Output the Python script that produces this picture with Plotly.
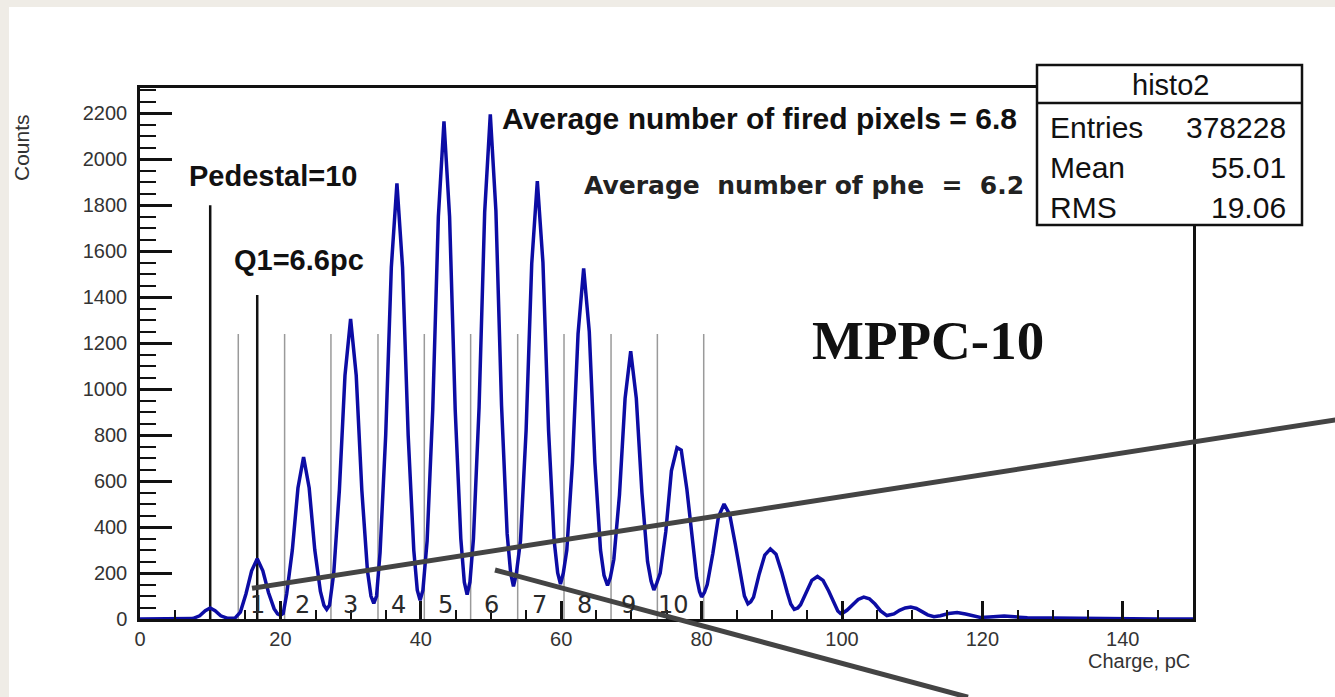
import plotly.graph_objects as go

# ---------------- data ----------------
charge = [0, 5, 7.5, 8.5, 9.3, 10.0, 10.7, 11.5, 12.5, 13.5,
          14.3, 15.1, 15.9, 16.7, 17.5, 18.3, 19.1, 19.6, 20.0, 20.4,
          20.9, 21.7, 22.5, 23.3, 24.1, 24.9, 25.7, 26.2, 26.6, 27.0,
          27.6, 28.4, 29.2, 30.0, 30.8, 31.6, 32.4, 32.9, 33.3, 33.7,
          34.2, 35.0, 35.8, 36.6, 37.4, 38.2, 39.0, 39.5, 39.9, 40.3,
          40.9, 41.7, 42.5, 43.3, 44.1, 44.9, 45.7, 46.2, 46.6, 47.0,
          47.5, 48.3, 49.1, 49.9, 50.7, 51.5, 52.3, 52.8, 53.2, 53.6,
          54.2, 55.0, 55.8, 56.6, 57.4, 58.2, 59.0, 59.5, 59.9, 60.3,
          60.8, 61.6, 62.4, 63.2, 64.0, 64.8, 65.6, 66.1, 66.6, 67.0,
          67.5, 68.3, 69.1, 69.9, 70.7, 71.5, 72.3, 72.8, 73.2, 73.6,
          74.1, 74.9, 75.7, 76.5, 77.1, 77.9, 78.7, 79.3, 79.7, 80.0, 80.4,
          80.8, 81.6, 82.4, 83.2, 84.0, 84.8, 85.6, 86.1, 86.6, 87.0,
          87.4, 88.2, 89.0, 89.8, 90.6, 91.4, 92.2, 92.7, 93.2, 93.7,
          94.1, 94.9, 95.7, 96.5, 97.3, 98.1, 98.9, 99.4, 99.8, 100.2,
          100.7, 101.5, 102.3, 103.1, 103.9, 104.7, 105.5, 106.4,
          107.4, 108.2, 109.0, 109.8, 110.6, 111.4, 112.2, 113.1,
          114.0, 115.2, 116.4, 117.6, 118.8, 119.7,
          121.0, 123.1, 125.2, 126.4, 130, 135, 140, 145, 150]
counts = [0, 1, 2, 14, 36, 48, 36, 14, 3, 3,
          30, 110, 210, 262, 210, 115, 45, 22, 16, 24,
          110, 300, 570, 705, 570, 300, 120, 60, 42, 60,
          200, 560, 1060, 1305, 1060, 560, 210, 100, 68, 100,
          290, 800, 1530, 1895, 1530, 800, 300, 125, 82, 125,
          340, 910, 1750, 2165, 1750, 910, 350, 160, 106, 160,
          350, 920, 1770, 2195, 1775, 930, 370, 200, 142, 195,
          340, 820, 1545, 1905, 1550, 820, 340, 200, 152, 200,
          300, 680, 1240, 1525, 1250, 680, 300, 190, 146, 180,
          260, 540, 960, 1165, 960, 550, 250, 165, 126, 155,
          200, 380, 645, 745, 735, 565, 330, 180, 120, 96, 115,
          150, 285, 445, 500, 455, 325, 175, 100, 66, 75,
          95, 195, 278, 305, 282, 205, 115, 65, 42, 48,
          62, 118, 168, 185, 168, 122, 68, 35, 24, 28,
          38, 62, 85, 95, 88, 65, 35, 15,
          22, 38, 48, 52, 46, 32, 18, 10,
          14, 24, 28, 22, 12, 7,
          9, 13, 8, 5, 4, 2, 1, 0, 0]

bin_edges = [14.0, 20.6, 27.2, 33.9, 40.5, 47.1, 53.8, 60.4, 67.1, 73.7, 80.3]
bin_edge_height = 1240
bin_labels = ["1", "2", "3", "4", "5", "6", "7", "8", "9", "10"]
bin_label_x = [16.7, 23.1, 30.0, 36.8, 43.5, 50.0, 56.9, 63.3, 69.6, 76.0]

pedestal_x, pedestal_h = 10.0, 1800
q1_x, q1_h = 16.7, 1410

stats_names = ["Entries", "Mean", "RMS"]
stats_values = ["378228", "55.01", "19.06"]

# ---------------- figure ----------------
W, H = 1335, 697
L, R, T, B = 140, 1193, 88, 619


def px(X):
    return (X - L) / (R - L)


def py(Y):
    return (B - Y) / (B - T)


fig = go.Figure()

# thin grey boundary lines
gx, gy = [], []
for e in bin_edges:
    gx += [e, e, None]
    gy += [0, bin_edge_height, None]
fig.add_trace(go.Scatter(x=gx, y=gy, mode="lines",
                         line=dict(color="#9a9a9a", width=1.5),
                         hoverinfo="skip", showlegend=False))

# black marker lines (pedestal, Q1)
fig.add_trace(go.Scatter(x=[pedestal_x, pedestal_x, None, q1_x, q1_x],
                         y=[0, pedestal_h, None, 0, q1_h], mode="lines",
                         line=dict(color="#111111", width=2.5),
                         hoverinfo="skip", showlegend=False))

# histogram
fig.add_trace(go.Scatter(x=charge, y=counts, mode="lines",
                         line=dict(color="#0c0ca4", width=3.5),
                         showlegend=False))

ann = []
bold = "Liberation Sans"
ann.append(dict(x=6.7, y=1926, xref="x", yref="y", text="<b>Pedestal=10</b>",
                showarrow=False, xanchor="left", yanchor="middle",
                font=dict(family=bold, size=29, color="#111")))
ann.append(dict(x=13.1, y=1561, xref="x", yref="y", text="<b>Q1=6.6pc</b>",
                showarrow=False, xanchor="left", yanchor="middle",
                font=dict(family=bold, size=29, color="#111")))
ann.append(dict(x=px(500), y=py(118), xref="paper", yref="paper",
                text="<b>Average number of fired pixels = 6.8</b>",
                showarrow=False, xanchor="left", yanchor="middle",
                font=dict(family=bold, size=30, color="#111")))
ann.append(dict(x=px(582), y=py(185), xref="paper", yref="paper",
                text="<b>Average  number of phe  =  6.2</b>",
                showarrow=False, xanchor="left", yanchor="middle",
                font=dict(family="DejaVu Sans", size=25, color="#222")))
ann.append(dict(x=px(810), y=py(340), xref="paper", yref="paper",
                text="<b>MPPC-10</b>", showarrow=False,
                xanchor="left", yanchor="middle",
                font=dict(family="Liberation Serif", size=55, color="#111")))
for lab, lx in zip(bin_labels, bin_label_x):
    ann.append(dict(x=lx, y=62, xref="x", yref="y", text=lab, showarrow=False,
                    xanchor="center", yanchor="middle",
                    font=dict(family="DejaVu Sans", size=24, color="#2a2a2a")))

# axis titles (ROOT style)
ann.append(dict(x=px(22), y=py(148), xref="paper", yref="paper", text="Counts",
                textangle=-90, showarrow=False, xanchor="center", yanchor="middle",
                font=dict(family="Liberation Sans", size=21, color="#333")))
ann.append(dict(x=px(1192), y=py(661), xref="paper", yref="paper", text="Charge, pC",
                showarrow=False, xanchor="right", yanchor="middle",
                font=dict(family="Liberation Sans", size=20, color="#333")))

# stats box texts
ann.append(dict(x=px(1170), y=py(85), xref="paper", yref="paper", text="histo2",
                showarrow=False, xanchor="center", yanchor="middle",
                font=dict(family="Liberation Sans", size=29, color="#111")))
row_y = [127, 167, 207]
for nm, val, ry in zip(stats_names, stats_values, row_y):
    ann.append(dict(x=px(1048), y=py(ry), xref="paper", yref="paper", text=nm,
                    showarrow=False, xanchor="left", yanchor="middle",
                    font=dict(family="Liberation Sans", size=30, color="#111")))
    ann.append(dict(x=px(1288), y=py(ry), xref="paper", yref="paper", text=val,
                    showarrow=False, xanchor="right", yanchor="middle",
                    font=dict(family="Liberation Sans", size=30, color="#111")))

shapes = [
    # white slide panel on beige background
    dict(type="rect", xref="paper", yref="paper", x0=px(9), x1=px(1345),
         y0=py(707), y1=py(7), fillcolor="white", line=dict(width=0), layer="below"),
    # stats box
    dict(type="rect", xref="paper", yref="paper", x0=px(1037), x1=px(1302),
         y0=py(225), y1=py(65), fillcolor="white",
         line=dict(color="#111", width=2.5), layer="above"),
    dict(type="line", xref="paper", yref="paper", x0=px(1037), x1=px(1302),
         y0=py(103), y1=py(103), line=dict(color="#111", width=2.5), layer="above"),
    # hand-drawn overlay lines
    dict(type="line", xref="paper", yref="paper", x0=px(252), y0=py(588.3),
         x1=px(1340), y1=py(419.2), line=dict(color="#444", width=5), layer="above"),
    dict(type="line", xref="paper", yref="paper", x0=px(495), y0=py(570),
         x1=px(968), y1=py(697.2), line=dict(color="#444", width=5), layer="above"),
]

fig.update_layout(
    width=W, height=H, autosize=False,
    margin=dict(l=L, r=W - R, t=T, b=H - B, pad=0),
    paper_bgcolor="#efece6", plot_bgcolor="white",
    showlegend=False,
    annotations=ann, shapes=shapes,
    xaxis=dict(range=[0, 150], tick0=0, dtick=20, ticks="inside", ticklen=18,
               tickwidth=2.5, tickcolor="#111", showline=True, linecolor="#111",
               linewidth=2.5, mirror=True, showgrid=False, zeroline=False,
               ticklabelstandoff=0,
               tickfont=dict(family="Liberation Sans", size=20, color="#333"),
               minor=dict(dtick=5, ticks="inside", ticklen=9, tickwidth=2,
                          tickcolor="#111", showgrid=False)),
    yaxis=dict(range=[0, 2310], tick0=0, dtick=200, ticks="inside", ticklen=32,
               tickwidth=2.5, tickcolor="#111", showline=True, linecolor="#111",
               linewidth=2.5, mirror=True, showgrid=False, zeroline=False,
               ticklabelstandoff=6,
               tickfont=dict(family="Liberation Sans", size=20, color="#333"),
               minor=dict(dtick=50, ticks="inside", ticklen=16, tickwidth=2,
                          tickcolor="#111", showgrid=False)),
)

fig.write_html("out.html")
